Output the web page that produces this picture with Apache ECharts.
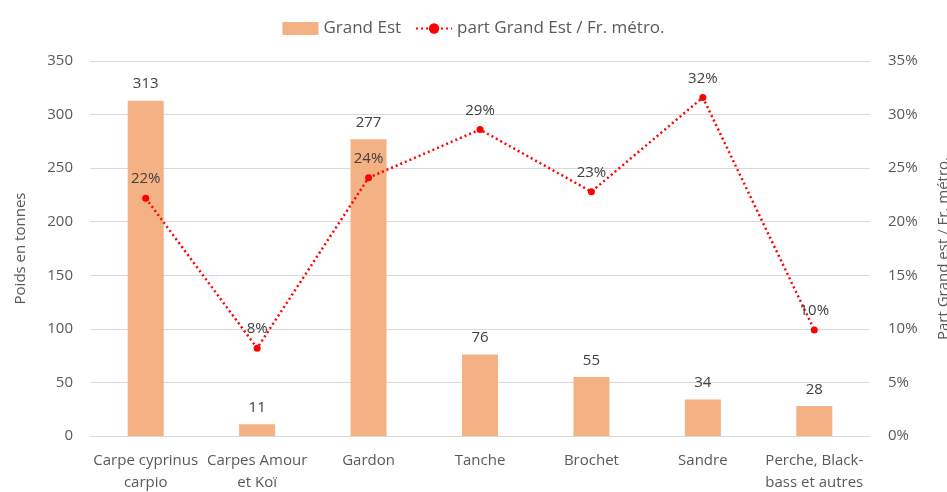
<!DOCTYPE html>
<html>
<head>
<meta charset="utf-8">
<script src="https://cdn.jsdelivr.net/npm/echarts@6/dist/echarts.min.js"></script>
<style>
  html, body { margin: 0; padding: 0; background: #fff; }
  #main { width: 947px; height: 492px; }
</style>
</head>
<body>
<div id="main"></div>
<script>
var categories = ['Carpe cyprinus\ncarpio', 'Carpes Amour\net Koï', 'Gardon', 'Tanche', 'Brochet', 'Sandre', 'Perche, Black-\nbass et autres'];
var tonnes = [313, 11, 277, 76, 55, 34, 28];
var part = [0.222, 0.082, 0.241, 0.286, 0.228, 0.316, 0.099];

var chart = echarts.init(document.getElementById('main'));
var textFont = '"Open Sans", sans-serif';

chart.setOption({
        animation: false,
        textStyle: { fontFamily: textFont },
        legend: {
                top: 15,
                left: 'center',
                itemGap: 14,
                itemWidth: 36,
                itemHeight: 13,
                textStyle: { color: '#595959', fontSize: 17, fontFamily: textFont },
                data: [
                        { name: 'Grand Est', icon: 'rect' },
                        { name: 'part Grand Est / Fr. métro.' }
                ]
        },
        grid: { left: 90, right: 77, top: 61, bottom: 56, outerBoundsMode: 'none', containLabel: false },
        xAxis: {
                type: 'category',
                data: categories,
                axisLine: { show: true, lineStyle: { color: '#d9d9d9' } },
                axisTick: { show: false },
                axisLabel: { color: '#595959', fontSize: 15, margin: 14, lineHeight: 22, interval: 0 }
        },
        yAxis: [
                {
                        type: 'value',
                        min: 0, max: 350, interval: 50,
                        name: 'Poids en tonnes',
                        nameLocation: 'middle',
                        nameGap: 62,
                        nameTextStyle: { color: '#595959', fontSize: 15 },
                        axisLabel: { color: '#595959', fontSize: 15, margin: 17 },
                        splitLine: { lineStyle: { color: '#d9d9d9' } }
                },
                {
                        type: 'value',
                        min: 0, max: 0.35, interval: 0.05,
                        name: 'Part Grand est / Fr. métro.',
                        nameLocation: 'middle',
                        nameGap: 66,
                        nameTextStyle: { color: '#595959', fontSize: 15 },
                        axisLabel: {
                                color: '#595959', fontSize: 15, margin: 18,
                                formatter: function (v) { return Math.round(v * 100) + '%'; }
                        },
                        splitLine: { show: false }
                }
        ],
        series: [
                {
                        name: 'Grand Est',
                        type: 'bar',
                        data: tonnes,
                        barWidth: 36,
                        itemStyle: { color: '#F4B183' },
                        label: { show: true, position: 'top', distance: 9, color: '#404040', fontSize: 15 }
                },
                {
                        name: 'part Grand Est / Fr. métro.',
                        type: 'line',
                        yAxisIndex: 1,
                        data: part,
                        symbol: 'circle',
                        symbolSize: 7,
                        itemStyle: { color: '#FF0000' },
                        lineStyle: { color: '#FF0000', width: 2.5, type: [2, 3] },
                        label: {
                                show: true, position: 'top', distance: 8, color: '#404040', fontSize: 15,
                                formatter: function (p) { return Math.round(p.value * 100) + '%'; }
                        }
                }
        ]
});
</script>
</body>
</html>
